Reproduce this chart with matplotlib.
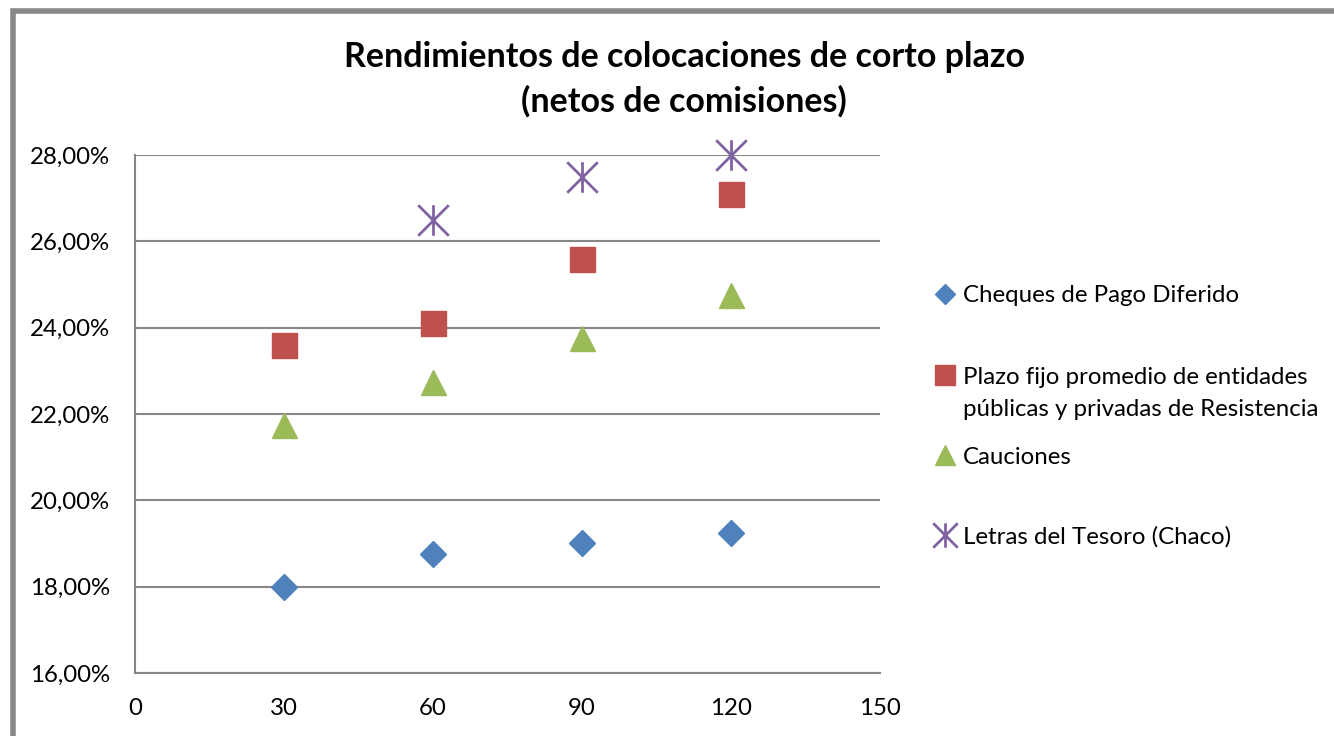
import numpy as np
import matplotlib.pyplot as plt
from matplotlib.path import Path
from matplotlib.patches import Rectangle
from matplotlib.ticker import FuncFormatter

plt.rcParams['font.family'] = ['Lato', 'DejaVu Sans']

# datos (plazo en dias, rendimiento en %)
dias = [30, 60, 90, 120]
cheques = [18.00, 18.75, 19.00, 19.25]
plazo_fijo = [23.60, 24.10, 25.60, 27.10]
cauciones = [21.75, 22.75, 23.75, 24.75]
dias_letras = [60, 90, 120]
letras = [26.50, 27.50, 28.00]

nombres = ["Cheques de Pago Diferido",
           "Plazo fijo promedio de entidades",
           "Cauciones",
           "Letras del Tesoro (Chaco)"]
nombre_cont = "públicas y privadas de Resistencia"

# asterisco tipo Excel: vertical + dos diagonales
asterisco = Path([(0, -1), (0, 1), (-1, -1), (1, 1), (-1, 1), (1, -1)],
                 [Path.MOVETO, Path.LINETO, Path.MOVETO, Path.LINETO,
                  Path.MOVETO, Path.LINETO])

fig = plt.figure(figsize=(13.34, 7.36), dpi=100)
ax = fig.add_axes([135/1334, 1 - 673/736, (880-135)/1334, (673-155)/736])

gris = '#888888'
ax.grid(axis='y', color=gris, linewidth=1.5, zorder=0)
ax.set_axisbelow(True)

h1, = ax.plot(dias, cheques, linestyle='none', marker='D', markersize=13,
              color='#4F81BD', clip_on=False, zorder=3)
h2, = ax.plot(dias, plazo_fijo, linestyle='none', marker='s', markersize=18,
              color='#C0504D', clip_on=False, zorder=3)
h3, = ax.plot(dias, cauciones, linestyle='none', marker='^', markersize=18,
              color='#9BBB59', clip_on=False, zorder=3)
h4, = ax.plot(dias_letras, letras, linestyle='none', marker=asterisco, markersize=22,
              markeredgewidth=2, color='#8064A2', clip_on=False, zorder=3)

ax.set_xlim(0, 150)
ax.set_ylim(16, 28)
ax.set_xticks(np.arange(0, 151, 30))
ax.set_yticks(np.arange(16, 28.1, 2))
ax.yaxis.set_major_formatter(FuncFormatter(lambda v, p: f"{v:.2f}%".replace('.', ',')))
ax.tick_params(length=0, labelsize=17.3)
ax.tick_params(axis='x', pad=18)
ax.tick_params(axis='y', pad=18)

for s in ['top', 'right']:
    ax.spines[s].set_visible(False)
for s in ['left', 'bottom']:
    ax.spines[s].set_color(gris)
    ax.spines[s].set_linewidth(1.5)

fig.text(684/1334, 1 - 57/736, "Rendimientos de colocaciones de corto plazo",
         ha='center', va='center', fontsize=24.5, fontweight='bold')
fig.text(684/1334, 1 - 101/736, "(netos de comisiones)",
         ha='center', va='center', fontsize=24.5, fontweight='bold')

# leyenda, una entrada por vez para respetar el espaciado del original
pos_y = [296, 377, 457, 537]
leyendas = []
for h, nombre, y in zip([h1, h2, h3, h4], nombres, pos_y):
    lg = fig.legend([h], [nombre], loc='center left',
                    bbox_to_anchor=(935/1334, 1 - y/736), frameon=False,
                    fontsize=17.3, handlelength=0.8, handletextpad=0.35,
                    markerscale=0.8, borderpad=0, borderaxespad=0)
    leyendas.append(lg)

# segunda linea de la entrada de plazo fijo, alineada con la primera
fig.canvas.draw()
x_txt = leyendas[1].get_texts()[0].get_window_extent().x0
fig.text(x_txt/1334, 1 - 410/736, nombre_cont, ha='left', va='center', fontsize=17.3)

# marco del grafico
fig.patches.append(Rectangle((12.5/1334, -0.2), 1.2, 1.2 - 10.5/736,
                             transform=fig.transFigure, fill=False,
                             edgecolor=gris, linewidth=4))

fig.savefig("out.png", dpi=100)
